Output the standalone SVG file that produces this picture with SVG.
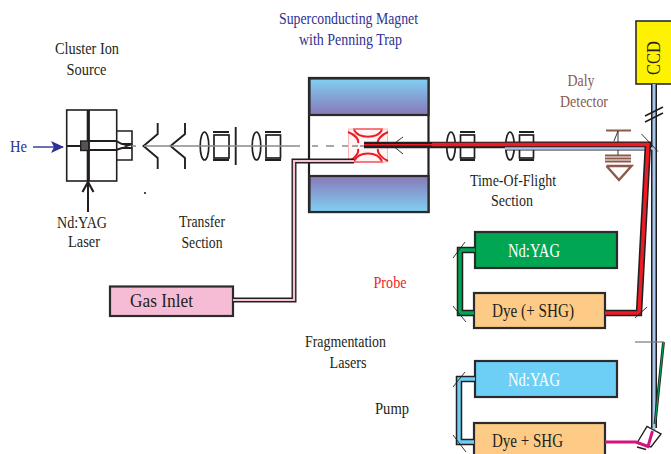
<svg xmlns="http://www.w3.org/2000/svg" width="671" height="454" viewBox="0 0 671 454">
<defs>
<linearGradient id="gt" x1="0" y1="0" x2="0" y2="1"><stop offset="0" stop-color="#80d0f4"/><stop offset="1" stop-color="#8878b8"/></linearGradient>
<linearGradient id="gb" x1="0" y1="0" x2="0" y2="1"><stop offset="0" stop-color="#8878b8"/><stop offset="1" stop-color="#80d0f4"/></linearGradient>
<marker id="ah" markerWidth="14" markerHeight="12" refX="12" refY="6" orient="auto" markerUnits="userSpaceOnUse"><path d="M0 0L13 6L0 12L3 6Z" fill="#2e3192"/></marker>
</defs>
<style>
text{font-family:"Liberation Serif","Times New Roman",serif;font-size:16px;fill:#231f20;text-anchor:middle}
.k{fill:none;stroke:#231f20;stroke-width:1.6}
.k2{fill:none;stroke:#231f20;stroke-width:1.9}
.box{stroke:#2b2b2b;stroke-width:2.2}
.ax{fill:none;stroke:#8a8a8a;stroke-width:1.5}
.r{fill:none;stroke:#ed1c24;stroke-width:2}
.b{fill:none;stroke:#8c5a4a;stroke-width:1.8}
.thin{fill:none;stroke:#231f20;stroke-width:.9}
.lens{fill:none;stroke:#231f20;stroke-width:1.700}
</style>

<g id="he"><path d="M33 147H63" stroke="#2e3192" stroke-width="1.4" marker-end="url(#ah)"/><text x="18.500" y="152" style="fill:#2e3192" textLength="17" lengthAdjust="spacingAndGlyphs">He</text></g>

<g id="source">
  <rect x="66.700" y="110" width="50" height="71" fill="#fff" stroke="#231f20" stroke-width="1.6"/>
  <path class="k" d="M117 131H132V160H117"/>
  <path d="M88.300 110V181" stroke="#231f20" stroke-width="3.200"/>
  <path class="k2" d="M66 146H81M88 141H116L122 144H132L126 146L132 148H122L116 150H88"/>
  <rect x="80.700" y="141" width="8" height="9.500" fill="#555" stroke="#231f20" stroke-width="1.4"/>
  <path d="M88 212V184" stroke="#231f20" stroke-width="2"/>
  <path d="M82.500 192L88 182L93.500 192" fill="none" stroke="#231f20" stroke-width="2.200"/>
  <text x="87" y="54" textLength="64" lengthAdjust="spacingAndGlyphs">Cluster Ion</text>
  <text x="86.500" y="75" textLength="40" lengthAdjust="spacingAndGlyphs">Source</text>
  <text x="82" y="228" textLength="50" lengthAdjust="spacingAndGlyphs">Nd:YAG</text>
  <text x="84" y="247" textLength="32" lengthAdjust="spacingAndGlyphs">Laser</text>
</g>

<g id="transfer">
  <path class="k2" d="M157.700 123V134L143.500 146L157.700 158V169M185 123V134L170.500 146L185 158V169"/>
  <ellipse cx="204.500" cy="146" rx="4.300" ry="14" class="lens"/>
  <rect x="214" y="135" width="15" height="23" class="lens"/>
  <path class="k2" d="M213 132H229M213 160H229M235.700 127V165"/>
  <ellipse cx="256.500" cy="146" rx="4.300" ry="14" class="lens"/>
  <rect x="266" y="135" width="14.500" height="23" class="lens"/>
  <path class="k2" d="M265 132H281M265 160H281"/>
  <circle cx="145" cy="193" r="1.100" fill="#231f20"/>
  <text x="202" y="227" textLength="46" lengthAdjust="spacingAndGlyphs">Transfer</text>
  <text x="202" y="248" textLength="41" lengthAdjust="spacingAndGlyphs">Section</text>
</g>

<g id="magnet">
  <rect x="309" y="78" width="119.500" height="134" fill="#fff" stroke="#231f20" stroke-width="2.200"/>
  <rect x="309.500" y="78.500" width="119" height="36.500" fill="url(#gt)" class="box"/>
  <rect x="309.500" y="176" width="119" height="36" fill="url(#gb)" class="box"/>
  <text x="348.500" y="24" style="fill:#2e3192" textLength="139" lengthAdjust="spacingAndGlyphs">Superconducting Magnet</text>
  <text x="350.500" y="45" style="fill:#2e3192" textLength="103" lengthAdjust="spacingAndGlyphs">with Penning Trap</text>
</g>

<g id="trap">
  <rect x="348.500" y="129" width="39" height="33" fill="#fde3e3" fill-opacity=".4" stroke="#f7a8a8" stroke-width=".8"/>
  <path d="M353 129H383M353 162H383" stroke="#ed1c24" stroke-width="1"/>
  <path class="r" d="M354 130C359 139 377 139 382 130M354 161C359 151 377 151 382 161"/>
  <path class="r" d="M348 132C356 135 359 140 358 143M349 161C356 158 359 152 358 149M388 132C381 135 377 140 378 143M388 161C381 158 377 152 378 149"/>
  <path class="thin" d="M403 137L392 145L403 154"/>
</g>

<g id="tof">
  <ellipse cx="451" cy="146" rx="4.300" ry="14" class="lens"/>
  <rect x="460.500" y="135" width="14" height="23" class="lens"/>
  <path class="k2" d="M460 132H475M460 160H475"/>
  <ellipse cx="510" cy="146" rx="4.300" ry="14" class="lens"/>
  <rect x="519.500" y="135" width="14" height="23" class="lens"/>
  <path class="k2" d="M519 132H534M519 160H534"/>
  <text x="513" y="186" textLength="86" lengthAdjust="spacingAndGlyphs">Time-Of-Flight</text>
  <text x="512" y="206" textLength="42" lengthAdjust="spacingAndGlyphs">Section</text>
</g>

<g id="daly">
  <path class="b" d="M606 130.500H631M605 155.500H631M605 158.500H631M605 161.500H631"/>
  <path d="M606.500 166L619 180L631.500 166H606.500" fill="none" stroke="#8c5a4a" stroke-width="2.400"/>
  <path class="thin" d="M618 131L614 141M618 131V142M618 150V155"/>
  <text x="581" y="86" style="fill:#8c5a4a" textLength="27" lengthAdjust="spacingAndGlyphs">Daly</text>
  <text x="584" y="107" style="fill:#8c5a4a" textLength="48" lengthAdjust="spacingAndGlyphs">Detector</text>
</g>

<g id="ccd">
  <rect x="636" y="21" width="36" height="63" fill="#fff200" stroke="#2b2b2b" stroke-width="1.600"/>
  <text transform="translate(660 58) rotate(-90)" style="font-size:18px" textLength="34" lengthAdjust="spacingAndGlyphs">CCD</text>
</g>

<g id="gas-inlet">
  <rect x="110" y="286.500" width="123" height="29.500" fill="#f6bcd6" class="box"/>
  <text x="161.500" y="307" style="font-size:19px" textLength="63" lengthAdjust="spacingAndGlyphs">Gas Inlet</text>
</g>

<g id="ndyag-probe">
  <rect x="475" y="232" width="142" height="36" fill="#00a651" class="box"/>
  <text x="534" y="257" style="fill:#fff;font-size:18px" textLength="52" lengthAdjust="spacingAndGlyphs">Nd:YAG</text>
</g>
<g id="dye-probe">
  <rect x="474" y="293" width="131" height="35" fill="#fdcb85" class="box"/>
  <text x="533" y="317" style="font-size:18px" textLength="82" lengthAdjust="spacingAndGlyphs">Dye (+ SHG)</text>
</g>
<g id="ndyag-pump">
  <rect x="475" y="361" width="142" height="36" fill="#6dcff6" class="box"/>
  <text x="534" y="386" style="fill:#fff;font-size:18px" textLength="52" lengthAdjust="spacingAndGlyphs">Nd:YAG</text>
</g>
<g id="dye-pump">
  <rect x="474" y="423" width="131" height="36" fill="#fdcb85" class="box"/>
  <text x="527.500" y="447" style="font-size:18px" textLength="71" lengthAdjust="spacingAndGlyphs">Dye + SHG</text>
</g>

<g id="labels">
  <text x="390" y="288" style="fill:#ed1c24" textLength="33" lengthAdjust="spacingAndGlyphs">Probe</text>
  <text x="345.500" y="347" textLength="81" lengthAdjust="spacingAndGlyphs">Fragmentation</text>
  <text x="348" y="368" textLength="37" lengthAdjust="spacingAndGlyphs">Lasers</text>
  <text x="392" y="414" textLength="34" lengthAdjust="spacingAndGlyphs">Pump</text>
</g>

<g id="connectors" fill="none">
  <path class="ax" d="M132 146H136M144 146H300M312 146H318M326 146H334M342 146H348M352 146H358M360 146H364"/>
  <path d="M233 300H294V161H354" stroke="#231f20" stroke-width="5"/>
  <path d="M233 300H294V161H354" stroke="#f6c2d8" stroke-width="2.200"/>
  <path d="M364 145H505" stroke="#231f20" stroke-width="6.500"/>
  <path d="M505 146H654" stroke="#231f20" stroke-width="9"/>
  <path d="M654 84V428" stroke="#231f20" stroke-width="6"/>
  <path d="M654 84V430" stroke="#a9c8ee" stroke-width="3"/>
  <path d="M505 148.500H654" stroke="#a9c8ee" stroke-width="2.500"/>
  <path d="M648 143L639 313H605" stroke="#231f20" stroke-width="6.500" stroke-linejoin="miter"/>
  <path d="M364 144.800H432" stroke="#ed1c24" stroke-width="1.600"/>
  <path d="M432 144.500H648L639 313H605" stroke="#ed1c24" stroke-width="3.400" stroke-linejoin="miter"/>
  <path d="M475 250H460V313H474" stroke="#231f20" stroke-width="6.500"/>
  <path d="M475 250H460V313H474" stroke="#00a651" stroke-width="3.400"/>
  <path d="M475 379H459V442H474" stroke="#231f20" stroke-width="6.500"/>
  <path d="M475 379H459V442H474" stroke="#6dcff6" stroke-width="3.400"/>
  <path d="M663.500 342L655 424" stroke="#231f20" stroke-width="2.800"/>
  <path d="M663.500 342L655 424" stroke="#00a651" stroke-width="1.200"/>
  <path d="M635 342H664" stroke="#777" stroke-width="1.200"/>
  <path class="k" d="M645 116L663 107M645 122L663 113"/>
  <path class="thin" d="M641.500 134L658 151.500M465 242L453 258M453 306L466 322M647 307L635 318M465 372L453 387M453 435L466 452"/>
  <path d="M637 443L647 426.500L661 434L651 447Z" stroke="#231f20" stroke-width="1.400"/>
  <path d="M637 447L646 449.500" stroke="#231f20" stroke-width="1.400"/>
  <path d="M605 442H636L648 446.500L652.500 431" stroke="#d6127f" stroke-width="3"/>
</g>
</svg>
